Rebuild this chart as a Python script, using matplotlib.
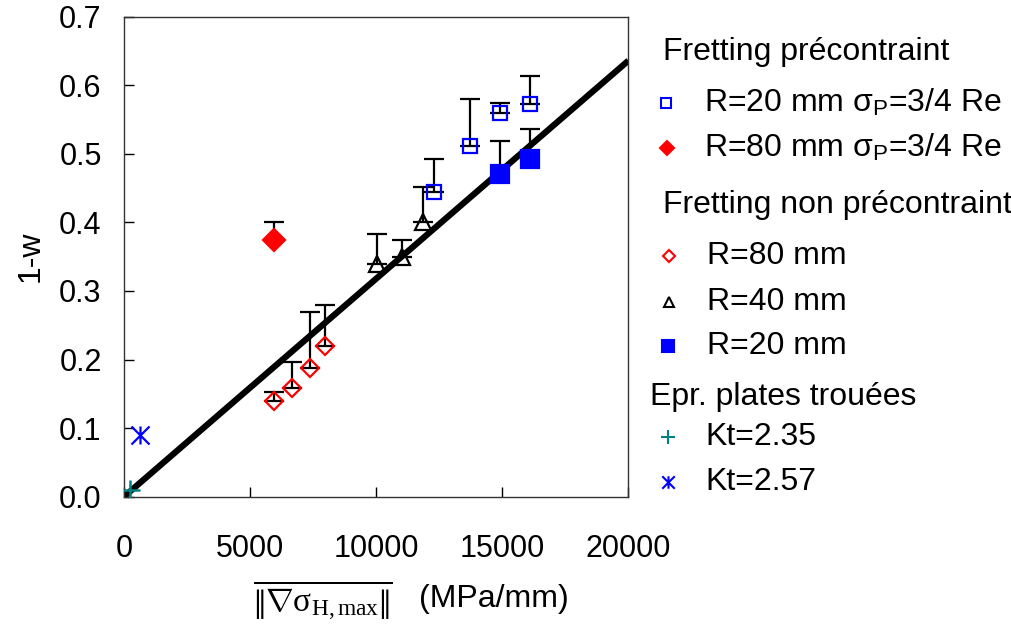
import numpy as np
import matplotlib.pyplot as plt
from matplotlib.lines import Line2D
from matplotlib.path import Path

## global style
plt.rcParams['font.family'] = 'Liberation Sans'
plt.rcParams['mathtext.fontset'] = 'custom'
plt.rcParams['mathtext.rm'] = 'Liberation Serif'
plt.rcParams['mathtext.it'] = 'Liberation Serif:italic'
plt.rcParams['mathtext.sf'] = 'Liberation Sans'
fntSize = 22
legSize = 23

## data
# fretting precontraint, R=20 mm (open blue squares)
precR20X = [12300, 13700, 14900, 16100]
precR20Y = [0.445, 0.512, 0.559, 0.573]
precR20Err = [0.048, 0.068, 0.015, 0.040]

# fretting precontraint, R=80 mm (filled red diamond)
precR80X = [5950]
precR80Y = [0.374]
precR80Err = [0.026]

# fretting non precontraint, R=80 mm (open red diamonds)
npR80X = [5950, 6650, 7380, 7980]
npR80Y = [0.139, 0.159, 0.188, 0.220]
npR80Err = [0.014, 0.037, 0.081, 0.060]

# fretting non precontraint, R=40 mm (open triangles)
npR40X = [10030, 11030, 11850]
npR40Y = [0.339, 0.350, 0.400]
npR40Err = [0.044, 0.024, 0.052]

# fretting non precontraint, R=20 mm (filled blue squares)
npR20X = [14900, 16100]
npR20Y = [0.471, 0.492]
npR20Err = [0.048, 0.044]

# plates with holes
kt235X = [250]
kt235Y = [0.010]
kt257X = [620]
kt257Y = [0.090]

# fitted line
fitX = [0, 20000]
fitY = [0.0, 0.636]

xTicks = [0, 5000, 10000, 15000, 20000]
yTicks = [0.0, 0.1, 0.2, 0.3, 0.4, 0.5, 0.6, 0.7]

legendHeaders = ['Fretting précontraint', 'Fretting non précontraint', 'Epr. plates trouées']
legendLabels = [r'R=20 mm σ$_\mathsf{P}$=3/4 Re', r'R=80 mm σ$_\mathsf{P}$=3/4 Re',
                'R=80 mm', 'R=40 mm', 'R=20 mm', 'Kt=2.35', 'Kt=2.57']

# asterisk marker: vertical line plus two diagonals
astMarker = Path([(0, -1), (0, 1), (-1, -1), (1, 1), (-1, 1), (1, -1)],
                 [Path.MOVETO, Path.LINETO, Path.MOVETO, Path.LINETO, Path.MOVETO, Path.LINETO])

blue = '#0000FF'
red = '#FF0000'
teal = '#008080'

## figure
fig = plt.figure(figsize=(10.12, 6.35), dpi=100)
ax = fig.add_axes([0.1225, 0.2178, 0.4985, 0.7559])

ax.plot(fitX, fitY, color='black', linewidth=4.5, solid_capstyle='butt', zorder=2)

# series styles: (x, y, err, marker, size, face, edge)
series = [
    (npR80X, npR80Y, npR80Err, 'D', 9.5, 'none', red),
    (npR40X, npR40Y, npR40Err, '^', 12, 'none', 'black'),
    (precR20X, precR20Y, precR20Err, 's', 10.5, 'none', blue),
    (npR20X, npR20Y, npR20Err, 's', 12.5, blue, blue),
    (precR80X, precR80Y, precR80Err, 'D', 11, red, red),
]
for x, y, err, mk, ms, fc, ec in series:
    ax.errorbar(x, y, yerr=[np.zeros(len(err)), err], fmt='none', ecolor='black',
                elinewidth=1.6, capsize=7, capthick=1.6, zorder=3)
    ax.plot(x, y, linestyle='none', marker=mk, markersize=ms, markerfacecolor=fc,
            markeredgecolor=ec, markeredgewidth=1.6, zorder=4)

ax.plot(kt235X, kt235Y, linestyle='none', marker='+', markersize=14, markeredgewidth=1.8,
        color=teal, zorder=5)
ax.plot(kt257X, kt257Y, linestyle='none', marker=astMarker, markersize=13, markeredgewidth=1.6,
        color=blue, zorder=5)

ax.set_xlim(0, 20000)
ax.set_ylim(0, 0.7)
ax.set_xticks(xTicks)
ax.set_yticks(yTicks)
ax.set_xticklabels([str(t) for t in xTicks])
ax.set_yticklabels([f'{t:.1f}' for t in yTicks])
ax.tick_params(axis='both', direction='in', length=7, width=1, labelsize=fntSize)
ax.tick_params(axis='x', pad=27)
ax.tick_params(axis='y', pad=16)
for sp in ax.spines.values():
    sp.set_linewidth(1)
    sp.set_color('#333333')

ax.set_ylabel('1-w', fontsize=legSize, labelpad=10)

# x label: gradient norm in serif math plus units
fig.text(0.319, 0.054, r'$\overline{\left\Vert\mathrm{\nabla σ}_{\mathrm{H,max}}\right\Vert}$',
         fontsize=24, ha='center', va='center')
fig.text(0.414, 0.057, '(MPa/mm)', fontsize=legSize, ha='left', va='center')

## legend drawn by hand
W, H = 1012, 635
def fx(px):
    return px / W
def fy(py):
    return 1 - py / H

headerPos = [(663, 52), (663, 205), (650, 397)]
for (px, py), txt in zip(headerPos, legendHeaders):
    fig.text(fx(px), fy(py), txt, fontsize=legSize, ha='left', va='center')

legendStyles = [
    ('s', 7, 'none', blue, 666, 103, 704),
    ('D', 7, red, red, 667, 148, 704),
    ('D', 6, 'none', red, 669, 256, 707),
    ('^', 7, 'none', 'black', 669, 302, 707),
    ('s', 8, blue, blue, 668, 346, 707),
    ('+', 10, teal, teal, 668, 437, 705),
    (astMarker, 9, blue, blue, 668, 482, 705),
]
for (mk, ms, fc, ec, mx, my, tx), lab in zip(legendStyles, legendLabels):
    fig.add_artist(Line2D([fx(mx)], [fy(my)], transform=fig.transFigure, linestyle='none',
                          marker=mk, markersize=ms, markerfacecolor=fc, markeredgecolor=ec,
                          markeredgewidth=1.5))
    fig.text(fx(tx), fy(my), lab, fontsize=legSize, ha='left', va='center')

fig.savefig('out.png', dpi=100)
